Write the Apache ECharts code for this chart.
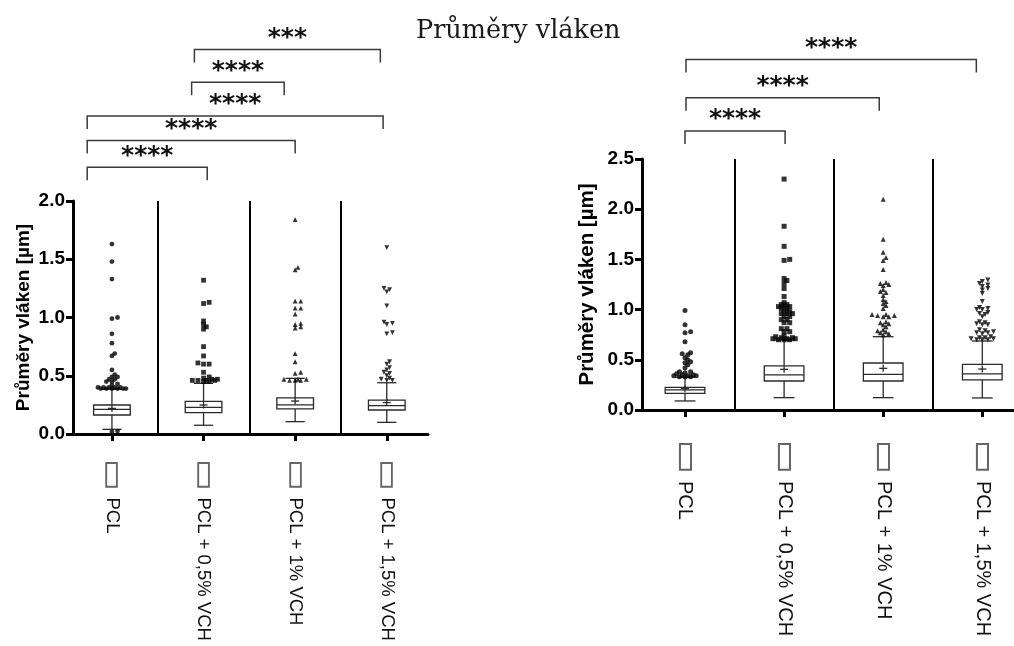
<!DOCTYPE html>
<html><head><meta charset="utf-8">
<script src="https://cdn.jsdelivr.net/npm/echarts@6/dist/echarts.min.js"></script>
<style>html,body{margin:0;padding:0;background:#fff}#c{width:1014px;height:646px}</style>
</head><body><div id="c"></div>
<script>
// ---------------- DATA ----------------
const chartTitle = 'Průměry vláken';
const yAxisName = 'Průměry vláken [µm]';
const categories = ['PCL', 'PCL + 0,5% VCH', 'PCL + 1% VCH', 'PCL + 1,5% VCH'];

// left panel: y ticks 0..2.0
const leftYTicks = [0, 0.5, 1.0, 1.5, 2.0];
const leftMin    = [0.04, 0.075, 0.106, 0.10];
const leftQ1     = [0.163, 0.183, 0.215, 0.206];
const leftMedian = [0.211, 0.229, 0.25, 0.243];
const leftQ3     = [0.249, 0.28, 0.31, 0.29];
const leftMax    = [0.385, 0.435, 0.478, 0.44];
const leftMean   = [0.22, 0.249, 0.283, 0.27];
const leftOutPCL = [0.02, 0.025, 0.39, 0.39, 0.40, 0.39, 0.40, 0.40, 0.39, 0.40, 0.39, 0.40, 0.39, 0.42, 0.43, 0.45, 0.45, 0.47, 0.47, 0.49, 0.49, 0.51, 0.55, 0.67, 0.69, 0.78, 0.86, 0.99, 1.00, 1.33, 1.48, 1.63];
const leftOut05  = [0.45, 0.45, 0.46, 0.46, 0.46, 0.46, 0.47, 0.47, 0.48, 0.49, 0.53, 0.60, 0.60, 0.61, 0.67, 0.75, 0.90, 0.92, 0.94, 0.97, 1.12, 1.13, 1.32];
const leftOut1   = [0.46, 0.46, 0.46, 0.47, 0.47, 0.47, 0.52, 0.53, 0.62, 0.69, 0.91, 0.92, 0.94, 0.95, 1.03, 1.08, 1.08, 1.14, 1.14, 1.41, 1.43, 1.84];
const leftOut15  = [0.46, 0.46, 0.47, 0.48, 0.50, 0.52, 0.53, 0.55, 0.57, 0.60, 0.62, 0.86, 0.87, 0.94, 0.95, 0.96, 1.10, 1.22, 1.24, 1.25, 1.60];
// left significance brackets: [from, to, height(µm scale), label]
const leftBracketFrom  = [-0.27, -0.27, -0.27, 0.87, 0.90];
const leftBracketTo    = [1.04, 2.00, 2.96, 1.88, 2.93];
const leftBracketLevel = [2.29, 2.52, 2.73, 3.02, 3.30];
const leftBracketLabel = ['****', '****', '****', '****', '***'];

// right panel: y ticks 0..2.5
const rightYTicks = [0, 0.5, 1.0, 1.5, 2.0, 2.5];
const rightMin    = [0.09, 0.123, 0.123, 0.12];
const rightQ1     = [0.166, 0.289, 0.289, 0.30];
const rightMedian = [0.20, 0.349, 0.355, 0.359];
const rightQ3     = [0.226, 0.44, 0.468, 0.455];
const rightMax    = [0.326, 0.697, 0.73, 0.687];
const rightMean   = [0.212, 0.405, 0.415, 0.408];
const rightOutPCL = [0.33, 0.33, 0.33, 0.34, 0.34, 0.34, 0.35, 0.35, 0.36, 0.37, 0.38, 0.38, 0.42, 0.45, 0.47, 0.48, 0.50, 0.52, 0.55, 0.56, 0.57, 0.68, 0.77, 0.78, 0.85, 0.99];
const rightOut05  = [0.70, 0.70, 0.70, 0.71, 0.71, 0.71, 0.72, 0.72, 0.73, 0.74, 0.78, 0.78, 0.81, 0.81, 0.87, 0.87, 0.90, 0.90, 0.93, 0.93, 0.96, 0.96, 0.96, 0.98, 0.98, 1.01, 1.01, 1.03, 1.03, 1.03, 1.05, 1.05, 1.07, 1.13, 1.21, 1.26, 1.29, 1.31, 1.49, 1.50, 1.63, 1.83, 2.30];
const rightOut1   = [0.75, 0.76, 0.77, 0.78, 0.79, 0.80, 0.83, 0.85, 0.86, 0.87, 0.88, 0.93, 0.93, 0.94, 0.94, 0.95, 0.95, 1.01, 1.04, 1.06, 1.08, 1.10, 1.14, 1.17, 1.18, 1.20, 1.24, 1.25, 1.26, 1.27, 1.40, 1.49, 1.52, 1.57, 1.70, 2.10];
const rightOut15  = [0.70, 0.70, 0.70, 0.71, 0.71, 0.72, 0.72, 0.73, 0.76, 0.77, 0.77, 0.78, 0.79, 0.80, 0.85, 0.85, 0.86, 0.87, 0.88, 0.93, 0.95, 0.96, 0.97, 1.00, 1.00, 1.01, 1.02, 1.08, 1.16, 1.195, 1.21, 1.23, 1.245, 1.26, 1.28, 1.295];
const rightBracketFrom  = [0.0, 0.01, 0.01];
const rightBracketTo    = [1.01, 1.96, 2.94];
const rightBracketLevel = [2.78, 3.11, 3.49];
const rightBracketLabel = ['****', '****', '****'];

// ---------------- LAYOUT ----------------
const FONT = 'Liberation Sans, Arial, Helvetica, sans-serif';
const L = { left: 73, top: 201, width: 355, height: 233, xMin: -0.425, xMax: 3.45, yMax: 2.0, bTop: 3.5,
            tickFont: 19, nameFont: 19, nameGap: 40, labelFont: 18.5, labelMargin: 25, sym: 4.8 };
const R = { left: 642, top: 159, width: 372, height: 251, xMin: -0.434, xMax: 3.32, yMax: 2.5, bTop: 4.0,
            tickFont: 19, nameFont: 20.5, nameGap: 44, labelFont: 20, labelMargin: 30, sym: 5 };
const symbols = ['circle', 'rect', 'triangle', 'triangle'];
const symRot  = [0, 0, 0, 180];

// deterministic spread of overlapping outlier points (layout only), capped width
function dodge(values, idx, pxX, pxY, d, step, maxOff) {
  const sorted = values.slice().sort((a, b) => a - b);
  const placed = [], out = [];
  const nMax = 2 * Math.floor(maxOff / step);
  for (const v of sorted) {
    const py = v * pxY;
    let best = 0, bestDist = -1;
    for (let n = 0; n <= nMax; n++) {
      const off = n === 0 ? 0 : (n % 2 ? 1 : -1) * Math.ceil(n / 2) * step;
      let near = Infinity;
      for (const p of placed) near = Math.min(near, Math.hypot(p[0] - off, p[1] - py));
      if (near >= d) { best = off; bestDist = near; break; }
      if (near > bestDist) { bestDist = near; best = off; }
    }
    placed.push([best, py]);
    out.push([idx + best / pxX, v]);
  }
  return out;
}

function renderBox(params, api) {
  const x = api.value(0);
  const bw = api.size([1, 0])[0];
  const half = bw * 0.2, cap = bw * 0.105;
  const pMin = api.coord([x, api.value(1)]);
  const pQ1 = api.coord([x, api.value(2)]);
  const pMed = api.coord([x, api.value(3)]);
  const pQ3 = api.coord([x, api.value(4)]);
  const pMax = api.coord([x, api.value(5)]);
  const pMean = api.coord([x, api.value(6)]);
  const cx = pMed[0];
  const st = { stroke: '#2a2a2a', lineWidth: 1.3, fill: null };
  return { type: 'group', children: [
    { type: 'line', shape: { x1: cx, y1: pQ3[1], x2: cx, y2: pMax[1] }, style: st },
    { type: 'line', shape: { x1: cx - cap, y1: pMax[1], x2: cx + cap, y2: pMax[1] }, style: st },
    { type: 'line', shape: { x1: cx, y1: pQ1[1], x2: cx, y2: pMin[1] }, style: st },
    { type: 'line', shape: { x1: cx - cap, y1: pMin[1], x2: cx + cap, y2: pMin[1] }, style: st },
    { type: 'rect', shape: { x: cx - half, y: pQ3[1], width: half * 2, height: pQ1[1] - pQ3[1] }, style: { stroke: '#2a2a2a', lineWidth: 1.3, fill: '#fff' } },
    { type: 'line', shape: { x1: cx - half, y1: pMed[1], x2: cx + half, y2: pMed[1] }, style: st },
    { type: 'line', shape: { x1: cx - 4, y1: pMean[1], x2: cx + 4, y2: pMean[1] }, style: st },
    { type: 'line', shape: { x1: cx, y1: pMean[1] - 3.5, x2: cx, y2: pMean[1] + 3.5 }, style: st }
  ] };
}

function makeBracketRenderer(labels) {
  return function (params, api) {
    const a = api.coord([api.value(0), api.value(2)]);
    const b = api.coord([api.value(1), api.value(2)]);
    const drop = 13;
    return { type: 'group', children: [
      { type: 'polyline', shape: { points: [[a[0], a[1] + drop], [a[0], a[1]], [b[0], b[1]], [b[0], b[1] + drop]] },
        style: { stroke: '#3a3a3a', lineWidth: 1.5, fill: null } },
      { type: 'text', x: (a[0] + b[0]) / 2, y: a[1] - 11,
        style: { text: labels[params.dataIndex], textAlign: 'center', textVerticalAlign: 'middle',
                 font: 'bold 25px DejaVu Sans, sans-serif', fill: '#111' } }
    ] };
  };
}

const grids = [], xAxes = [], yAxes = [], series = [];

function addPanel(P, stats, outs, bFrom, bTo, bLevel, bLabel, yTicks) {
  const gi = grids.length;
  const pxX = P.width / (P.xMax - P.xMin), pxY = P.height / P.yMax;
  grids.push({ left: P.left, top: P.top, width: P.width, height: P.height });
  const bh = (P.bTop - P.yMax) * pxY;
  grids.push({ left: P.left, top: P.top - bh, width: P.width, height: bh });
  xAxes.push({
    type: 'value', gridIndex: gi, min: P.xMin, max: P.xMax,
    axisLine: { onZero: false, lineStyle: { color: '#000', width: 3 } },
    axisTick: { show: true, customValues: [0, 1, 2, 3], length: 7, lineStyle: { color: '#000', width: 3 } },
    axisLabel: {
      customValues: [0, 1, 2, 3], rotate: -90, margin: P.labelMargin,
      formatter: v => '{box|\u25AD}{name|' + categories[Math.round(v)] + '}',
      rich: {
        box: { fontFamily: 'DejaVu Sans', fontSize: P.labelFont * 1.8, color: '#666', padding: [0, 7, 0, 0], verticalAlign: 'middle' },
        name: { fontFamily: FONT, fontSize: P.labelFont, color: '#111', verticalAlign: 'middle' }
      }
    },
    splitLine: { show: false }
  });
  xAxes.push({ type: 'value', gridIndex: gi + 1, min: P.xMin, max: P.xMax, show: false });
  yAxes.push({
    type: 'value', gridIndex: gi, min: 0, max: P.yMax, interval: 0.5,
    name: yAxisName, nameLocation: 'middle', nameGap: P.nameGap,
    nameTextStyle: { fontFamily: FONT, fontWeight: 'bold', fontSize: P.nameFont, color: '#000' },
    axisLine: { show: true, onZero: false, lineStyle: { color: '#000', width: 3 } },
    axisTick: { show: true, length: 7, lineStyle: { color: '#000', width: 3 } },
    axisLabel: { fontFamily: FONT, fontWeight: 'bold', fontSize: P.tickFont, color: '#000', margin: 8,
                 formatter: v => yTicks.includes(v) ? v.toFixed(1) : '' },
    splitLine: { show: false }
  });
  yAxes.push({ type: 'value', gridIndex: gi + 1, min: P.yMax, max: P.bTop, show: false });

  const xi = xAxes.length - 2, yi = yAxes.length - 2;
  series.push({
    type: 'custom', xAxisIndex: xi, yAxisIndex: yi, renderItem: renderBox, silent: true, z: 3,
    encode: { x: 0, y: [1, 2, 3, 4, 5, 6] },
    data: categories.map((c, i) => [i, stats[0][i], stats[1][i], stats[2][i], stats[3][i], stats[4][i], stats[5][i]]),
    markLine: {
      silent: true, symbol: 'none', label: { show: false },
      lineStyle: { color: '#000', width: 2, type: 'solid' },
      data: [0, 1, 2].map(i => ({ xAxis: i + 0.5 }))
    }
  });
  outs.forEach((vals, i) => {
    series.push({
      type: 'scatter', xAxisIndex: xi, yAxisIndex: yi, silent: true, z: 4,
      symbol: symbols[i], symbolRotate: symRot[i], symbolSize: P.sym,
      itemStyle: { color: '#000' },
      data: dodge(vals, i, pxX, pxY, 3.2, 2.8, 15)
    });
  });
  series.push({
    type: 'custom', xAxisIndex: xi + 1, yAxisIndex: yi + 1, silent: true,
    renderItem: makeBracketRenderer(bLabel),
    encode: { x: [0, 1], y: 2 },
    data: bFrom.map((f, i) => [f, bTo[i], bLevel[i]])
  });
}

addPanel(L, [leftMin, leftQ1, leftMedian, leftQ3, leftMax, leftMean],
         [leftOutPCL, leftOut05, leftOut1, leftOut15],
         leftBracketFrom, leftBracketTo, leftBracketLevel, leftBracketLabel, leftYTicks);
addPanel(R, [rightMin, rightQ1, rightMedian, rightQ3, rightMax, rightMean],
         [rightOutPCL, rightOut05, rightOut1, rightOut15],
         rightBracketFrom, rightBracketTo, rightBracketLevel, rightBracketLabel, rightYTicks);

const chart = echarts.init(document.getElementById('c'), null, { renderer: 'canvas' });
chart.setOption({
  animation: false,
  backgroundColor: '#fff',
  title: { text: chartTitle, left: 411, top: 13,
           textStyle: { fontFamily: 'DejaVu Serif, serif', fontWeight: 'normal', fontSize: 25.5, color: '#1a1a1a' } },
  grid: grids, xAxis: xAxes, yAxis: yAxes, series: series
});
</script></body></html>
